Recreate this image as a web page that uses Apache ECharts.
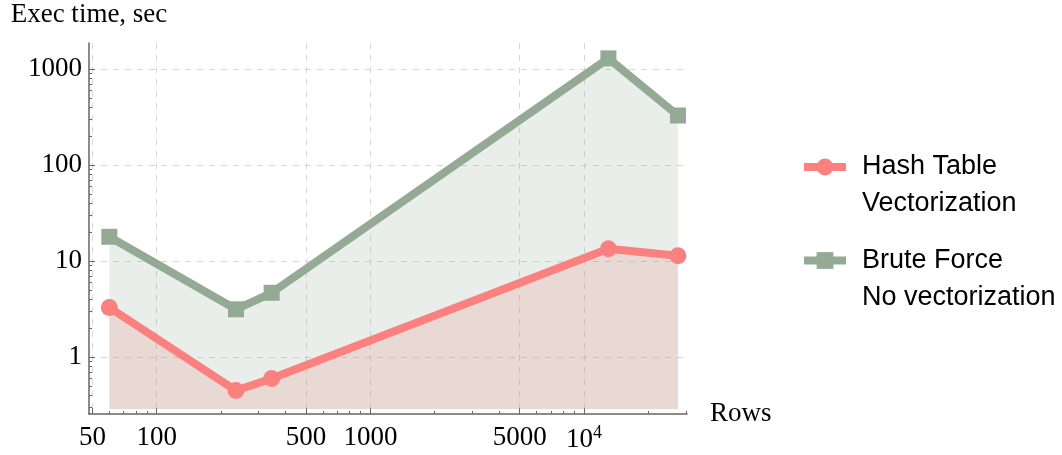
<!DOCTYPE html>
<html>
<head>
<meta charset="utf-8">
<script src="https://cdn.jsdelivr.net/npm/echarts@6/dist/echarts.min.js"></script>
<style>html,body{margin:0;padding:0;background:#fff}#c{width:1062px;height:455px}</style>
</head>
<body>
<div id="c"></div>
<script>
const rows = [60, 235, 345, 13000, 27500];
const hashTable = [3.3, 0.45, 0.6, 13.5, 11.4];
const bruteForce = [18, 3.16, 4.7, 1300, 330];
const seriesNames = ['Hash Table\nVectorization', 'Brute Force\nNo vectorization'];
const xMajorTicks = [50, 100, 500, 1000, 5000, 10000];
const xMinorTicks = [60, 70, 80, 90, 200, 300, 400, 600, 700, 800, 900, 2000, 3000, 4000, 6000, 7000, 8000, 9000, 20000, 30000];
const yMajorTicks = [1, 10, 100, 1000];
const yMinorTicks = [0.3, 0.4, 0.5, 0.6, 0.7, 0.8, 0.9, 2, 3, 4, 5, 6, 7, 8, 9, 20, 30, 40, 50, 60, 70, 80, 90, 200, 300, 400, 500, 600, 700, 800, 900];

const X_MIN = 48.2, X_MAX = 30320, Y_MIN = 0.2566, Y_MAX = 1879, FILL_BASE = 0.2893;
const serif = 'Liberation Serif';
const sans = 'Liberation Sans';
const axisColor = '#666';
const red = '#fb8080';
const green = '#95aa95';

const chart = echarts.init(document.getElementById('c'), null, {renderer: 'canvas'});
const splitStyle = {show: true, lineStyle: {color: '#d6d6d6', type: [6, 6], width: 1}};
chart.setOption({
  animation: false,
  grid: {left: 89, top: 43, right: 375, bottom: 41, containLabel: false},
  legend: {
    orient: 'vertical', left: 800, top: 111.5, padding: 0, itemGap: -17.5,
    itemWidth: 42, itemHeight: 21,
    data: seriesNames,
    formatter: name => '\n' + name,
    lineStyle: {width: 8},
    textStyle: {fontFamily: sans, fontSize: 27, color: '#000', lineHeight: 37, padding: [0, 0, 0, 11]}
  },
  xAxis: [{
    type: 'log', min: X_MIN, max: X_MAX,
    name: 'Rows', nameLocation: 'end', nameGap: 23,
    nameTextStyle: {fontFamily: serif, fontSize: 27, color: '#000'},
    axisLine: {show: true, lineStyle: {color: axisColor, width: 1.5}},
    axisTick: {show: true, inside: true, length: 6, customValues: xMajorTicks, lineStyle: {color: axisColor}},
    axisLabel: {
      show: true, margin: 10, customValues: xMajorTicks,
      fontFamily: serif, fontSize: 27, color: '#000',
      formatter: v => v === 10000 ? '{b|10}{sup|4}' : String(v),
      rich: {
        b: {fontFamily: serif, fontSize: 27, color: '#000', lineHeight: 31},
        sup: {fontFamily: serif, fontSize: 18, color: '#000', verticalAlign: 'top', lineHeight: 17}
      }
    },
    splitLine: splitStyle, minorTick: {show: false}
  }, {
    type: 'log', min: X_MIN, max: X_MAX, position: 'bottom',
    axisLine: {show: false},
    axisTick: {show: true, inside: true, length: 3, customValues: xMinorTicks, lineStyle: {color: axisColor}},
    axisLabel: {show: false}, splitLine: {show: false}
  }],
  yAxis: [{
    type: 'log', min: Y_MIN, max: Y_MAX,
    name: 'Exec time, sec', nameLocation: 'end', nameGap: 15,
    nameTextStyle: {fontFamily: serif, fontSize: 27, color: '#000'},
    axisLine: {show: true, lineStyle: {color: axisColor, width: 1.5}},
    axisTick: {show: true, inside: true, length: 6, customValues: yMajorTicks, lineStyle: {color: axisColor}},
    axisLabel: {show: true, margin: 7, customValues: yMajorTicks, fontFamily: serif, fontSize: 27, color: '#000',
      formatter: v => String(v)},
    splitLine: splitStyle
  }, {
    type: 'log', min: Y_MIN, max: Y_MAX, position: 'left',
    axisLine: {show: false},
    axisTick: {show: true, inside: true, length: 3, customValues: yMinorTicks, lineStyle: {color: axisColor}},
    axisLabel: {show: false}, splitLine: {show: false}
  }],
  series: [{
    name: seriesNames[1], type: 'line', xAxisIndex: 0, yAxisIndex: 0,
    data: rows.map((r, i) => [r, bruteForce[i]]),
    symbol: 'rect', symbolSize: 16,
    lineStyle: {color: green, width: 8}, itemStyle: {color: green},
    areaStyle: {color: 'rgba(149,170,149,0.2)', origin: FILL_BASE, opacity: 1}
  }, {
    name: seriesNames[0], type: 'line', xAxisIndex: 0, yAxisIndex: 0,
    data: rows.map((r, i) => [r, hashTable[i]]),
    symbol: 'circle', symbolSize: 17,
    lineStyle: {color: red, width: 8}, itemStyle: {color: red},
    areaStyle: {color: 'rgba(220,128,120,0.2)', origin: FILL_BASE, opacity: 1}
  }]
});
</script>
</body>
</html>
